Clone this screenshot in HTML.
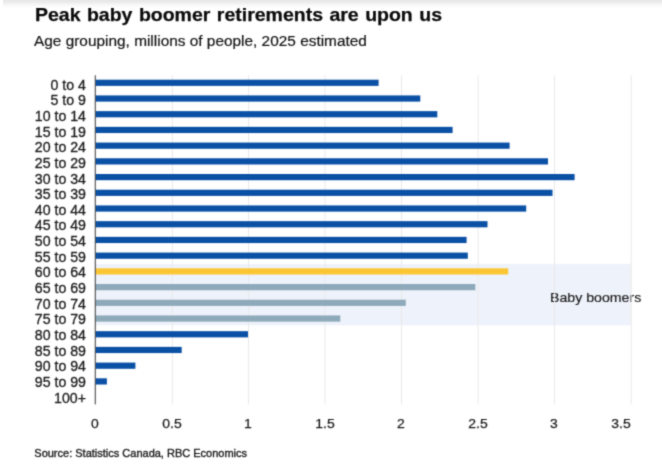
<!DOCTYPE html>
<html><head><meta charset="utf-8"><title>Peak baby boomer retirements are upon us</title>
<style>
html,body{margin:0;padding:0;background:#fff;}
body{width:662px;height:467px;position:relative;overflow:hidden;font-family:"Liberation Sans",Arial,sans-serif;color:#1f1f1f;}
#wrap{position:absolute;left:-6px;top:-6px;width:674px;height:479px;background:#fff;filter:url(#soft);}
#chart{position:absolute;left:6px;top:6px;width:662px;height:467px;}
.abs{position:absolute;}
svg.layer{position:absolute;left:0;top:0;width:662px;height:467px;overflow:visible;}
.top{left:3px;top:-6px;width:670px;height:14px;background:linear-gradient(to bottom,#e6e6e6 0,#e6e6e6 6px,#ebebeb 8px,#f6f6f6 10.5px,#ffffff 14px);}
.title{left:34.5px;top:3.9px;font-size:18.6px;word-spacing:1px;font-weight:bold;white-space:nowrap;line-height:22px;color:#0a0a0a;transform:scaleX(1.048);transform-origin:0 50%;-webkit-text-stroke:0.25px #0a0a0a;}
.sub{left:34.3px;top:31.7px;font-size:14.7px;white-space:nowrap;line-height:18px;color:#141414;transform:scaleX(1.048);transform-origin:0 50%;-webkit-text-stroke:0.2px #141414;}
.yl{right:576.4px;width:90px;text-align:right;font-size:14px;line-height:16px;white-space:nowrap;color:#1c1c1c;-webkit-text-stroke:0.3px #1c1c1c;transform:scaleX(1.012);transform-origin:100% 50%;}
.xl{width:60px;text-align:center;font-size:13.2px;line-height:16px;color:#1c1c1c;transform:scaleX(1.06);transform-origin:50% 50%;-webkit-text-stroke:0.25px #1c1c1c;}
.src{left:34.3px;top:446px;font-size:11px;line-height:14px;white-space:nowrap;color:#1c1c1c;-webkit-text-stroke:0.35px #1c1c1c;}
.ann{font-size:13.5px;line-height:16px;white-space:nowrap;color:#1c1c1c;transform:scaleX(1.048);transform-origin:0 50%;-webkit-text-stroke:0.2px #1c1c1c;}
</style></head><body>
<svg width="0" height="0" style="position:absolute"><filter id="soft" x="0" y="0" width="100%" height="100%" color-interpolation-filters="sRGB"><feConvolveMatrix order="3" kernelMatrix="1 4 1 4 16 4 1 4 1" divisor="36" edgeMode="duplicate" preserveAlpha="true"/></filter></svg>
<div id="wrap"><div id="chart">
<div class="abs top"></div>
<div class="abs title">Peak baby boomer retirements are upon us</div>
<div class="abs sub">Age grouping, millions of people, 2025 estimated</div>
<svg class="layer" viewBox="0 0 662 467"><rect x="95" y="263.8" width="535.9" height="61.6" fill="#eef2fa"/></svg>
<div class="abs ann" style="left:550px;top:289.5px">Baby boomers</div>
<svg class="layer" viewBox="0 0 662 467">
<rect x="171.90" y="75.3" width="1" height="329.1" fill="#e9e9e9"/>
<rect x="248.00" y="75.3" width="1" height="329.1" fill="#e9e9e9"/>
<rect x="324.50" y="75.3" width="1" height="329.1" fill="#e9e9e9"/>
<rect x="401.00" y="75.3" width="1" height="329.1" fill="#e9e9e9"/>
<rect x="477.60" y="75.3" width="1" height="329.1" fill="#e9e9e9"/>
<rect x="554.00" y="75.3" width="1" height="329.1" fill="#e9e9e9"/>
<rect x="630.70" y="75.3" width="1" height="329.1" fill="#e9e9e9"/>
<rect x="95.30" y="79.70" width="283.30" height="6.20" fill="#0a50a5"/>
<rect x="95.30" y="95.42" width="325.00" height="6.20" fill="#0a50a5"/>
<rect x="95.30" y="111.13" width="342.00" height="6.20" fill="#0a50a5"/>
<rect x="95.30" y="126.85" width="357.30" height="6.20" fill="#0a50a5"/>
<rect x="95.30" y="142.56" width="414.30" height="6.20" fill="#0a50a5"/>
<rect x="95.30" y="158.28" width="452.70" height="6.20" fill="#0a50a5"/>
<rect x="95.30" y="174.00" width="479.30" height="6.20" fill="#0a50a5"/>
<rect x="95.30" y="189.71" width="457.20" height="6.20" fill="#0a50a5"/>
<rect x="95.30" y="205.43" width="430.90" height="6.20" fill="#0a50a5"/>
<rect x="95.30" y="221.14" width="392.20" height="6.20" fill="#0a50a5"/>
<rect x="95.30" y="236.86" width="371.30" height="6.20" fill="#0a50a5"/>
<rect x="95.30" y="252.58" width="372.50" height="6.20" fill="#0a50a5"/>
<rect x="95.30" y="268.29" width="412.90" height="6.20" fill="#fbc634"/>
<rect x="95.30" y="284.01" width="380.00" height="6.20" fill="#8eaaba"/>
<rect x="95.30" y="299.72" width="310.50" height="6.20" fill="#8eaaba"/>
<rect x="95.30" y="315.44" width="245.00" height="6.20" fill="#8eaaba"/>
<rect x="95.30" y="331.16" width="152.70" height="6.20" fill="#0a50a5"/>
<rect x="95.30" y="346.87" width="86.40" height="6.20" fill="#0a50a5"/>
<rect x="95.30" y="362.59" width="40.10" height="6.20" fill="#0a50a5"/>
<rect x="95.30" y="378.30" width="11.60" height="6.20" fill="#0a50a5"/>
<rect x="94.75" y="75.3" width="1.1" height="329.1" fill="#4a4a4a"/>
</svg>
<div class="abs yl" style="top:76.55px">0 to 4</div>
<div class="abs yl" style="top:92.21px">5 to 9</div>
<div class="abs yl" style="top:107.87px">10 to 14</div>
<div class="abs yl" style="top:123.53px">15 to 19</div>
<div class="abs yl" style="top:139.19px">20 to 24</div>
<div class="abs yl" style="top:154.85px">25 to 29</div>
<div class="abs yl" style="top:170.51px">30 to 34</div>
<div class="abs yl" style="top:186.17px">35 to 39</div>
<div class="abs yl" style="top:201.83px">40 to 44</div>
<div class="abs yl" style="top:217.49px">45 to 49</div>
<div class="abs yl" style="top:233.15px">50 to 54</div>
<div class="abs yl" style="top:248.81px">55 to 59</div>
<div class="abs yl" style="top:264.47px">60 to 64</div>
<div class="abs yl" style="top:280.13px">65 to 69</div>
<div class="abs yl" style="top:295.79px">70 to 74</div>
<div class="abs yl" style="top:311.45px">75 to 79</div>
<div class="abs yl" style="top:327.11px">80 to 84</div>
<div class="abs yl" style="top:342.77px">85 to 89</div>
<div class="abs yl" style="top:358.43px">90 to 94</div>
<div class="abs yl" style="top:374.09px">95 to 99</div>
<div class="abs yl" style="top:389.75px">100+</div>
<div class="abs xl" style="left:64.5px;top:415.7px">0</div>
<div class="abs xl" style="left:141.9px;top:415.7px">0.5</div>
<div class="abs xl" style="left:218.0px;top:415.7px">1</div>
<div class="abs xl" style="left:294.5px;top:415.7px">1.5</div>
<div class="abs xl" style="left:371.0px;top:415.7px">2</div>
<div class="abs xl" style="left:447.6px;top:415.7px">2.5</div>
<div class="abs xl" style="left:524.0px;top:415.7px">3</div>
<div class="abs xl" style="left:590.7px;top:415.7px">3.5</div>
<div class="abs src">Source: Statistics Canada, RBC Economics</div>
</div></div>
</body></html>
